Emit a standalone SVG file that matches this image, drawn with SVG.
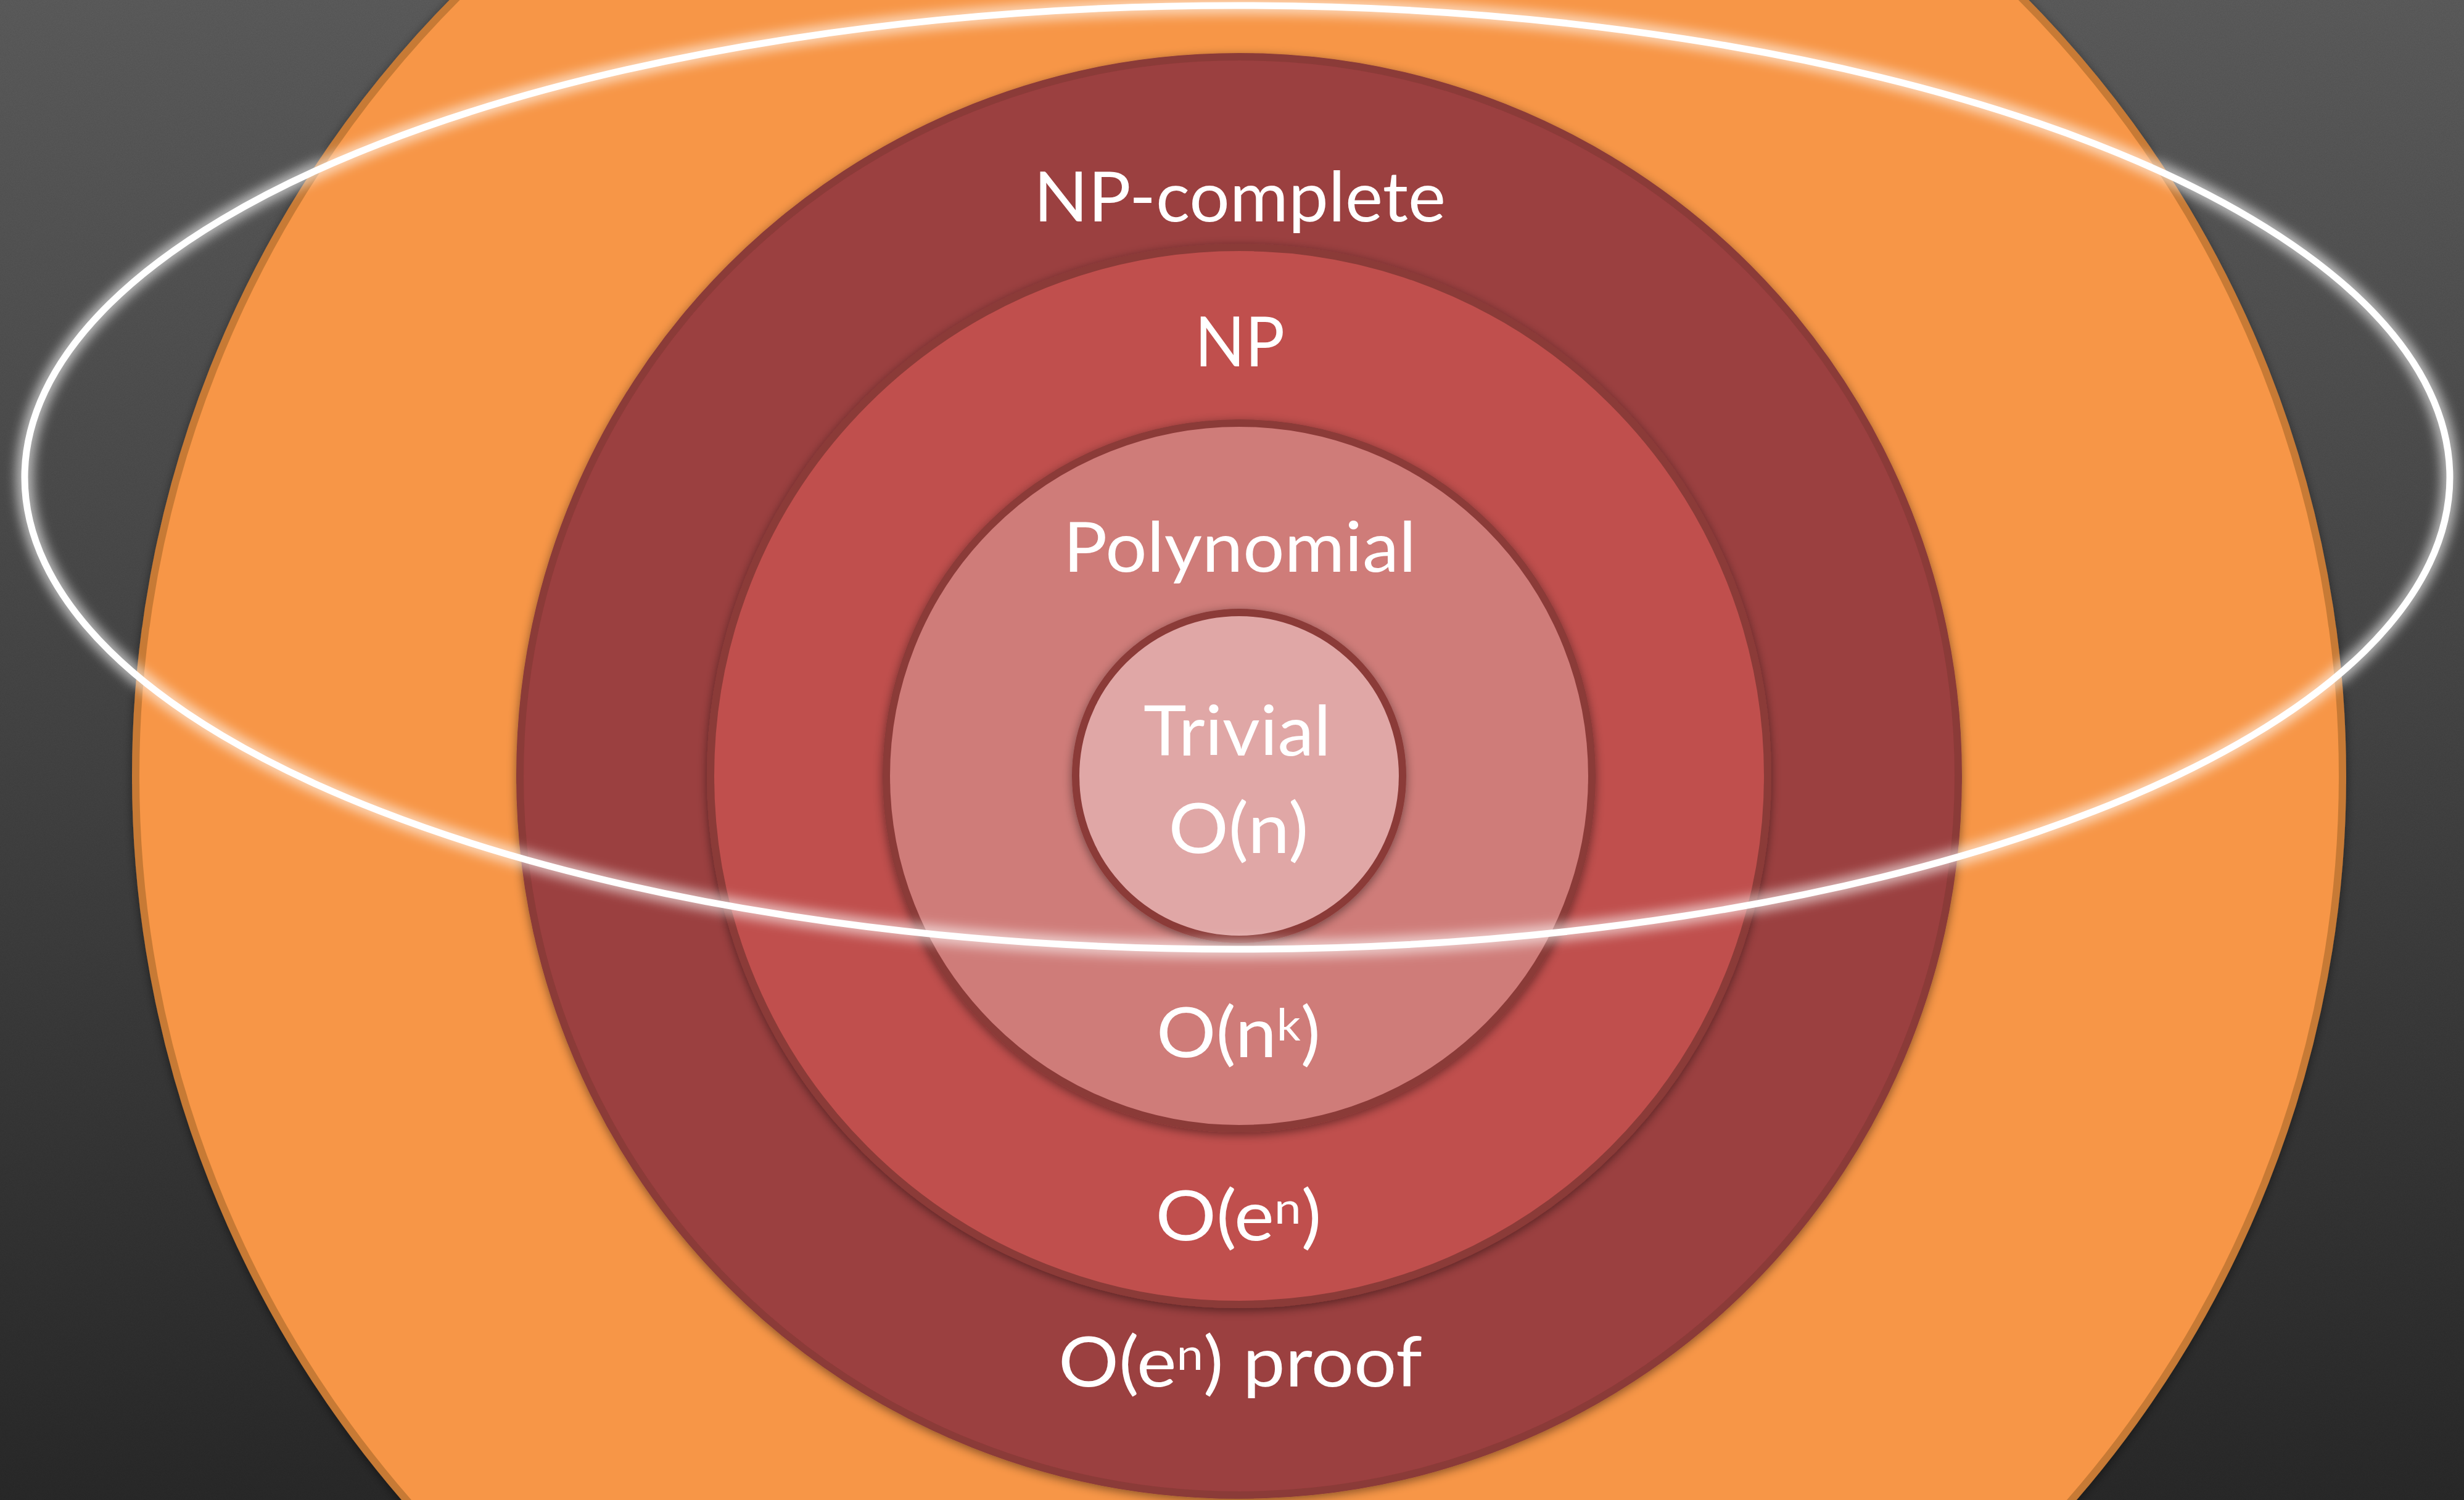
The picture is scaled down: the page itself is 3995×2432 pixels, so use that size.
<svg xmlns="http://www.w3.org/2000/svg" width="3995" height="2432" viewBox="0 0 3995 2432">
  <defs>
    <linearGradient id="bg" x1="0" y1="0" x2="0" y2="1">
      <stop offset="0" stop-color="#5e5e5e"/>
      <stop offset="0.5" stop-color="#454545"/>
      <stop offset="1" stop-color="#2a2a2a"/>
    </linearGradient>
    <filter id="noise" x="0" y="0" width="100%" height="100%">
      <feTurbulence type="fractalNoise" baseFrequency="0.7" numOctaves="2" seed="3" result="n"/>
      <feColorMatrix in="n" type="matrix" values="0 0 0 0 0  0 0 0 0 0  0 0 0 0 0  0 0 0 0.12 0"/>
    </filter>
    <filter id="shadow" x="-10%" y="-10%" width="120%" height="120%">
      <feDropShadow dx="0" dy="4" stdDeviation="8" flood-color="#000" flood-opacity="0.45"/>
    </filter>
    <filter id="glow" x="-10%" y="-20%" width="120%" height="140%">
      <feGaussianBlur stdDeviation="9"/>
    </filter>
    <style>
      .ring { stroke-width: 12; filter: url(#shadow); }
      .inner { stroke: #8b3a38; }
      .lbl { font-family: Lato, "Open Sans", "Liberation Sans", sans-serif; font-size: 113px; fill: #ffffff; text-anchor: middle; }
      .sup { font-size: 72px; }
    </style>
  </defs>

  <g id="background">
    <rect x="0" y="0" width="3995" height="2432" fill="url(#bg)"/>
    <rect x="0" y="0" width="3995" height="2432" filter="url(#noise)"/>
  </g>

  <g id="set-all">
    <circle class="ring" cx="2009" cy="1258" r="1789" fill="#f79646" stroke="#c77a36"/>
  </g>

  <g id="set-np-complete">
    <circle class="ring inner" cx="2009" cy="1258" r="1166" fill="#9b3f3f"/>
    <text class="lbl" x="2010" y="359" textLength="668" lengthAdjust="spacingAndGlyphs">NP-complete</text>
    <text class="lbl" x="2011" y="2248" textLength="590" lengthAdjust="spacingAndGlyphs">O(e<tspan class="sup" dy="-27">n</tspan><tspan dy="27">) proof</tspan></text>
  </g>

  <g id="set-np">
    <circle class="ring inner" cx="2009" cy="1258" r="857" fill="#c0504d"/>
    <text class="lbl" x="2010" y="594" textLength="146" lengthAdjust="spacingAndGlyphs">NP</text>
    <text class="lbl" x="2008" y="2011" textLength="269" lengthAdjust="spacingAndGlyphs">O(e<tspan class="sup" dy="-27">n</tspan><tspan dy="27">)</tspan></text>
  </g>

  <g id="set-polynomial">
    <circle class="ring inner" cx="2009" cy="1258" r="572" fill="#cf7b79"/>
    <text class="lbl" x="2010" y="927" textLength="572" lengthAdjust="spacingAndGlyphs">Polynomial</text>
    <text class="lbl" x="2008" y="1714" textLength="266" lengthAdjust="spacingAndGlyphs">O(n<tspan class="sup" dy="-27">k</tspan><tspan dy="27">)</tspan></text>
  </g>

  <g id="set-trivial">
    <circle class="ring inner" cx="2009" cy="1258" r="265" fill="#e0a7a6"/>
    <text class="lbl" x="2006" y="1225" textLength="304" lengthAdjust="spacingAndGlyphs">Trivial</text>
    <text class="lbl" x="2008" y="1383" textLength="227" lengthAdjust="spacingAndGlyphs">O(n)</text>
  </g>

  <g id="boundary-ellipse">
    <ellipse cx="2006" cy="774" rx="1966" ry="765" fill="none" stroke="#ffffff" stroke-width="28" stroke-opacity="0.6" filter="url(#glow)"/>
    <ellipse cx="2006" cy="774" rx="1966" ry="765" fill="none" stroke="#ffffff" stroke-width="11"/>
  </g>

  <g id="connectors"/>
</svg>
